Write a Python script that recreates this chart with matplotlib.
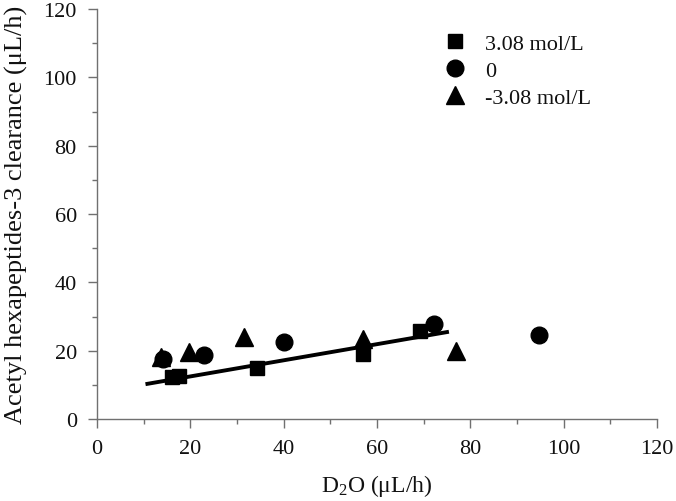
import matplotlib
matplotlib.use("Agg")
import matplotlib.pyplot as plt
import numpy as np
from matplotlib.ticker import MultipleLocator

plt.rcParams['font.family'] = ['Liberation Serif', 'DejaVu Serif']
plt.rcParams['mathtext.fontset'] = 'custom'
plt.rcParams['mathtext.rm'] = 'Liberation Serif'
plt.rcParams['mathtext.it'] = 'Liberation Serif:italic'

# Data
sq_x = [16.0, 17.5, 34.2, 56.9, 69.2]
sq_y = [12.2, 12.5, 14.9, 19.1, 25.9]
ci_x = [14.2, 22.9, 40.1, 72.2, 94.7]
ci_y = [17.6, 18.8, 22.5, 27.9, 24.6]
tr_x = [13.7, 19.7, 31.6, 56.9, 76.9]
tr_y = [18.1, 19.7, 24.0, 23.5, 20.0]
labels = ['3.08 mol/L', '0', '-3.08 mol/L']
fit_slope = 0.236
fit_intercept = 7.75
fit_range = [10.8, 75.0]

fig = plt.figure(figsize=(6.76, 5.02), dpi=100)
ax = fig.add_axes([0.1435, 0.1633, 0.8284, 0.8167])

ax.plot(sq_x, sq_y, 's', color='black', ms=10.5, label=labels[0], zorder=3)
ax.plot(ci_x, ci_y, 'o', color='black', ms=12, label=labels[1], zorder=3)
ax.plot(tr_x, tr_y, '^', color='black', ms=13, label=labels[2], zorder=3)
fx = np.array(fit_range)
ax.plot(fx, fit_slope * fx + fit_intercept, '-', color='black', lw=2.8, zorder=2)

ax.set_xlim(0, 120)
ax.set_ylim(0, 120)
ax.xaxis.set_major_locator(MultipleLocator(20))
ax.xaxis.set_minor_locator(MultipleLocator(10))
ax.yaxis.set_major_locator(MultipleLocator(20))
ax.yaxis.set_minor_locator(MultipleLocator(10))

for s in ['top', 'right']:
    ax.spines[s].set_visible(False)
for s in ['left', 'bottom']:
    ax.spines[s].set_color('#707070')
    ax.spines[s].set_linewidth(1.0)
ax.tick_params(which='both', direction='out', color='#707070', width=1.0,
               labelsize=16, labelcolor='#111111')
ax.tick_params(which='major', length=6.5)
ax.tick_params(which='minor', length=3.5)
ax.tick_params(axis='y', which='major', pad=8)
ax.tick_params(axis='x', which='major', pad=8)

ax.set_xlabel('D$_2$O (μL/h)', fontsize=17, labelpad=10, color='#111111')
ax.set_ylabel('Acetyl hexapeptides-3 clearance (μL/h)', fontsize=19, labelpad=11,
              color='#111111')

ax.legend(loc='upper left', bbox_to_anchor=(0.58, 0.99), frameon=False,
          fontsize=16, handletextpad=0.75, labelspacing=0.3, numpoints=1,
          handlelength=1.2, labelcolor='#111111')

fig.savefig('out.png', dpi=100)
